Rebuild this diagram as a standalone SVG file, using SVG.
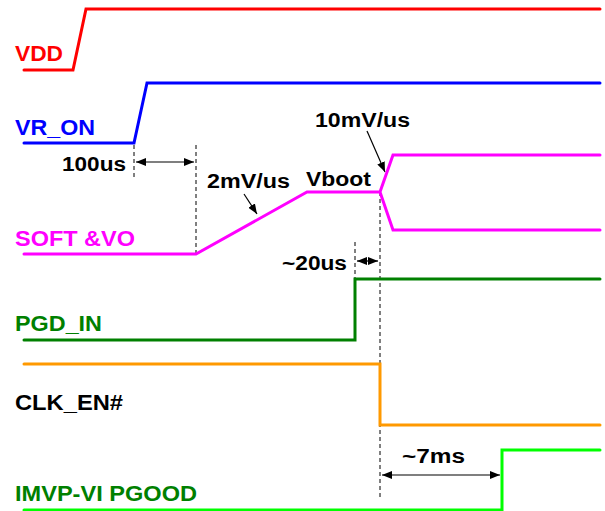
<svg xmlns="http://www.w3.org/2000/svg" width="605" height="511" viewBox="0 0 605 511">
<defs>
<marker id="ah" viewBox="0 0 10 8" refX="10" refY="4" markerWidth="10" markerHeight="8" markerUnits="userSpaceOnUse" orient="auto-start-reverse"><path d="M0,0 L10,4 L0,8 Z" fill="#000"/></marker>
</defs>
<style>
.sig{fill:none;stroke-width:3;stroke-linejoin:miter;stroke-linecap:round}
.dash{fill:none;stroke:#000;stroke-width:1;stroke-dasharray:4,3}
.arr{fill:none;stroke:#000;stroke-width:1.2}
.lbl{font-family:"Liberation Sans",Arial,sans-serif;font-weight:bold;font-size:22px}
.ann{font-family:"Liberation Sans",Arial,sans-serif;font-weight:bold;font-size:20px;fill:#000}
</style>
<rect width="605" height="511" fill="#fff"/>
<g id="connectors">
<path class="dash" d="M134,145 V180 M196,145 V254 M355,242 V280 M380,192 V500"/>
<line class="arr" x1="136" y1="162" x2="194" y2="162" marker-start="url(#ah)" marker-end="url(#ah)"/>
<line class="arr" x1="357" y1="261" x2="378" y2="261" marker-start="url(#ah)" marker-end="url(#ah)"/>
<line class="arr" x1="382" y1="475" x2="500" y2="475" marker-start="url(#ah)" marker-end="url(#ah)"/>
<line class="arr" x1="244" y1="194" x2="257" y2="214" marker-end="url(#ah)"/>
<line class="arr" x1="367" y1="131" x2="385" y2="172" marker-end="url(#ah)"/>
</g>
<g id="vdd">
<path class="sig" stroke="#ff0000" d="M24,70 H73 L86,9 H600"/>
<text class="lbl" fill="#ff0000" x="15" y="61" textLength="48" lengthAdjust="spacingAndGlyphs">VDD</text>
</g>
<g id="vr_on">
<path class="sig" stroke="#0000ff" d="M24,143 H134 L147,83 H600"/>
<text class="lbl" fill="#0000ff" x="15" y="135" textLength="80" lengthAdjust="spacingAndGlyphs">VR_ON</text>
</g>
<g id="soft_vo">
<path class="sig" stroke="#ff00ff" d="M24,254 H196 L307,192 H380 L393,155 H600 M380,192 L393,230 H600"/>
<text class="lbl" fill="#ff00ff" x="15" y="246" textLength="120" lengthAdjust="spacingAndGlyphs">SOFT &amp;VO</text>
</g>
<g id="pgd_in">
<path class="sig" stroke="#008000" d="M24,340 H355 V279 H600"/>
<text class="lbl" fill="#008000" x="15" y="331" textLength="87" lengthAdjust="spacingAndGlyphs">PGD_IN</text>
</g>
<g id="clk_en">
<path class="sig" stroke="#ff9900" d="M24,364 H380 V425 H600"/>
<text class="lbl" fill="#000" x="15" y="410" textLength="108" lengthAdjust="spacingAndGlyphs">CLK_EN#</text>
</g>
<g id="imvp_pgood">
<path class="sig" stroke="#00ff00" d="M24,510 H502 V450 H600"/>
<text class="lbl" fill="#008000" x="15" y="501" textLength="182" lengthAdjust="spacingAndGlyphs">IMVP-VI PGOOD</text>
</g>
<g id="annotations">
<text class="ann" x="62" y="171" textLength="64" lengthAdjust="spacingAndGlyphs">100us</text>
<text class="ann" x="207" y="188" textLength="83" lengthAdjust="spacingAndGlyphs">2mV/us</text>
<text class="ann" x="306" y="186" textLength="65" lengthAdjust="spacingAndGlyphs">Vboot</text>
<text class="ann" x="315" y="127" textLength="95" lengthAdjust="spacingAndGlyphs">10mV/us</text>
<text class="ann" x="282" y="270" textLength="65" lengthAdjust="spacingAndGlyphs">~20us</text>
<text class="ann" x="402" y="463" textLength="63" lengthAdjust="spacingAndGlyphs">~7ms</text>
</g>
</svg>
